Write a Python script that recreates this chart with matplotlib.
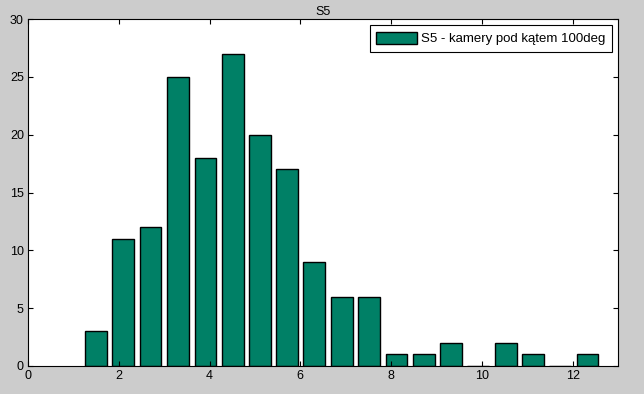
import matplotlib.pyplot as plt

# histogram bin centres and counts
bin_centers = [1.50, 2.10, 2.70, 3.31, 3.91, 4.51, 5.11, 5.71, 6.31, 6.92,
               7.52, 8.12, 8.72, 9.32, 9.92, 10.53, 11.13, 11.73, 12.33]
counts = [3, 11, 12, 25, 18, 27, 20, 17, 9, 6, 6, 1, 1, 2, 0, 2, 1, 0, 1]
series_label = "S5 - kamery pod kątem 100deg"
title = "S5"

plt.rcParams['font.family'] = ['Liberation Sans', 'DejaVu Sans']

fig = plt.figure(figsize=(6.44, 3.94), dpi=100, facecolor='#cccccc')
ax = fig.add_axes([28 / 644, 1 - 366 / 394, 590 / 644, 347 / 394])
ax.set_facecolor('white')

ax.bar(bin_centers, counts, width=0.48, color='#008066', edgecolor='black',
       linewidth=1.0, label=series_label)

ax.set_xlim(0, 13)
ax.set_ylim(0, 30)
ax.set_xticks(range(0, 13, 2))
ax.set_yticks(range(0, 31, 5))
ax.tick_params(direction='in', top=True, right=True, length=3.6, width=0.8,
               labelsize=9, pad=3)
for s in ax.spines.values():
    s.set_linewidth(0.8)

ax.set_title(title, fontsize=9, pad=3)

leg = ax.legend(loc='upper right', fontsize=9.5, fancybox=False, framealpha=1,
                edgecolor='black', handlelength=3.1, handleheight=1.1,
                handletextpad=0.3, borderpad=0.5, borderaxespad=0.45)
leg.get_frame().set_linewidth(0.8)

fig.savefig('out.png', dpi=100, facecolor=fig.get_facecolor())
